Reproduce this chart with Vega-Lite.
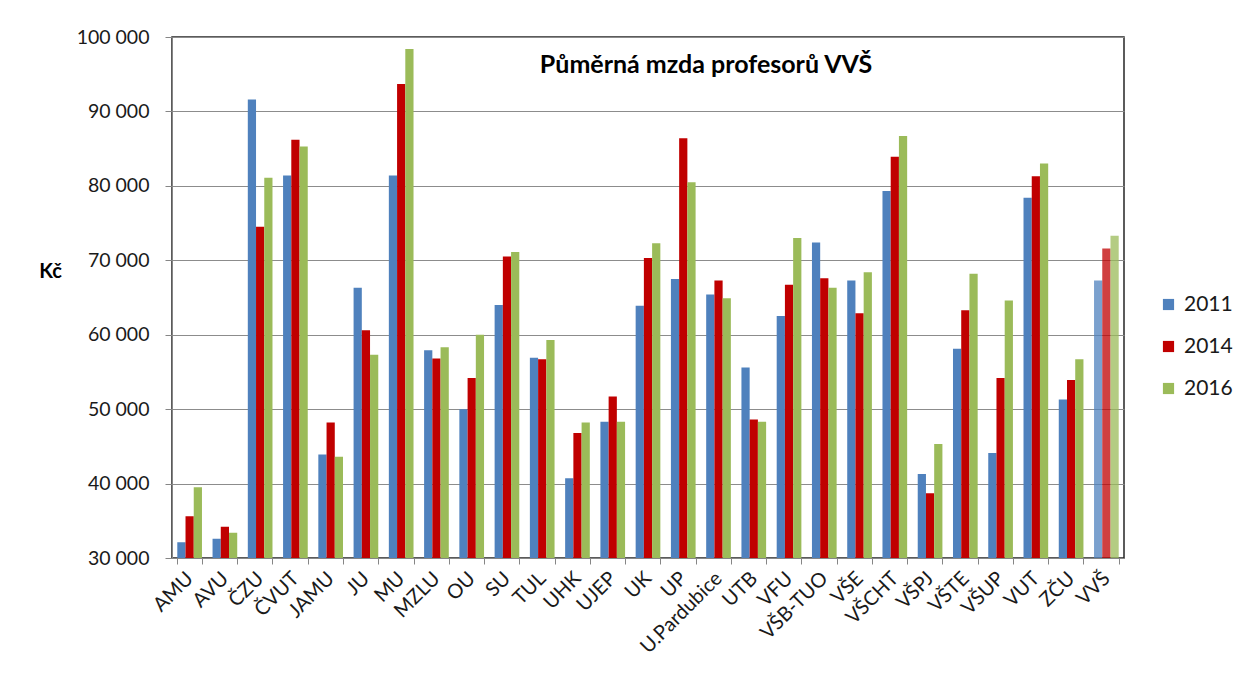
{
  "$schema": "https://vega.github.io/schema/vega-lite/v6.json",
  "width": 952,
  "height": 521,
  "autosize": {"type": "none"},
  "padding": {"left": 172, "top": 37, "right": 115, "bottom": 117},
  "background": "white",
  "title": {
    "text": "Půměrná mzda profesorů VVŠ",
    "anchor": "middle",
    "frame": "group",
    "offset": -51,
    "dx": 58,
    "font": "Lato",
    "fontSize": 25,
    "fontWeight": "bold",
    "color": "#000000"
  },
  "data": {
    "values": [
      {"vs": "AMU", "2011": 32100, "2014": 35600, "2016": 39500},
      {"vs": "AVU", "2011": 32600, "2014": 34200, "2016": 33400},
      {"vs": "ČZU", "2011": 91600, "2014": 74500, "2016": 81100},
      {"vs": "ČVUT", "2011": 81400, "2014": 86200, "2016": 85300},
      {"vs": "JAMU", "2011": 43900, "2014": 48200, "2016": 43600},
      {"vs": "JU", "2011": 66300, "2014": 60600, "2016": 57300},
      {"vs": "MU", "2011": 81400, "2014": 93700, "2016": 98400},
      {"vs": "MZLU", "2011": 57900, "2014": 56800, "2016": 58300},
      {"vs": "OU", "2011": 50000, "2014": 54200, "2016": 60000},
      {"vs": "SU", "2011": 64000, "2014": 70500, "2016": 71100},
      {"vs": "TUL", "2011": 56900, "2014": 56700, "2016": 59300},
      {"vs": "UHK", "2011": 40700, "2014": 46800, "2016": 48200},
      {"vs": "UJEP", "2011": 48300, "2014": 51700, "2016": 48300},
      {"vs": "UK", "2011": 63900, "2014": 70300, "2016": 72300},
      {"vs": "UP", "2011": 67500, "2014": 86400, "2016": 80500},
      {"vs": "U.Pardubice", "2011": 65400, "2014": 67300, "2016": 64900},
      {"vs": "UTB", "2011": 55600, "2014": 48600, "2016": 48300},
      {"vs": "VFU", "2011": 62500, "2014": 66700, "2016": 73000},
      {"vs": "VŠB-TUO", "2011": 72400, "2014": 67600, "2016": 66300},
      {"vs": "VŠE", "2011": 67300, "2014": 62900, "2016": 68400},
      {"vs": "VŠCHT", "2011": 79300, "2014": 83900, "2016": 86700},
      {"vs": "VŠPJ", "2011": 41300, "2014": 38700, "2016": 45300},
      {"vs": "VŠTE", "2011": 58100, "2014": 63300, "2016": 68200},
      {"vs": "VŠUP", "2011": 44100, "2014": 54200, "2016": 64600},
      {"vs": "VUT", "2011": 78400, "2014": 81300, "2016": 83000},
      {"vs": "ZČU", "2011": 51300, "2014": 53900, "2016": 56700},
      {"vs": "VVŠ", "2011": 67300, "2014": 71600, "2016": 73300}
    ]
  },
  "transform": [{"fold": ["2011", "2014", "2016"], "as": ["rok", "mzda"]}],
  "mark": {"type": "bar", "clip": true},
  "encoding": {
    "x": {
      "field": "vs",
      "type": "nominal",
      "sort": null,
      "scale": {"paddingInner": 0.3, "paddingOuter": 0.15},
      "axis": {
        "title": null,
        "labelAngle": -45,
        "labelAlign": "right",
        "labelBaseline": "middle",
        "labelPadding": 11,
        "labelFont": "Lato",
        "labelFontSize": 20,
        "labelColor": "#1a1a1a",
        "tickBand": "extent",
        "tickSize": 6,
        "tickColor": "#868686",
        "domainColor": "#868686",
        "labelOverlap": false
      }
    },
    "xOffset": {"field": "rok", "type": "nominal"},
    "y": {
      "field": "mzda",
      "type": "quantitative",
      "scale": {"domain": [30000, 100000], "nice": false, "zero": false},
      "axis": {
        "values": [30000, 40000, 50000, 60000, 70000, 80000, 90000, 100000],
        "labelExpr": "replace(format(datum.value, ','), ',', ' ')",
        "title": "Kč",
        "titleAngle": 0,
        "titleAlign": "center",
        "titleBaseline": "middle",
        "titleX": -122,
        "titleY": 234,
        "titleFont": "Lato",
        "titleFontSize": 20,
        "titleFontWeight": "bold",
        "titleColor": "#000000",
        "labelFont": "Lato",
        "labelFontSize": 19.5,
        "labelColor": "#1a1a1a",
        "labelPadding": 16,
        "tickSize": 7,
        "tickColor": "#868686",
        "domainColor": "#868686",
        "grid": true,
        "gridColor": "#8c8c8c"
      }
    },
    "color": {
      "field": "rok",
      "type": "nominal",
      "scale": {"domain": ["2011", "2014", "2016"], "range": ["#4F81BD", "#C00000", "#9BBB59"]},
      "legend": {
        "title": null,
        "orient": "none",
        "legendX": 986,
        "legendY": 257,
        "symbolType": "square",
        "symbolSize": 125,
        "symbolStrokeWidth": 0,
        "labelFont": "Lato",
        "labelFontSize": 21,
        "labelColor": "#1a1a1a",
        "rowPadding": 20,
        "labelOffset": 5
      }
    },
    "fillOpacity": {
      "condition": {"test": "datum.vs === 'VVŠ'", "value": 0.75},
      "value": 1
    }
  },
  "config": {
    "view": {"stroke": "#262626", "strokeWidth": 1.5},
    "axis": {"domainWidth": 1}
  }
}
